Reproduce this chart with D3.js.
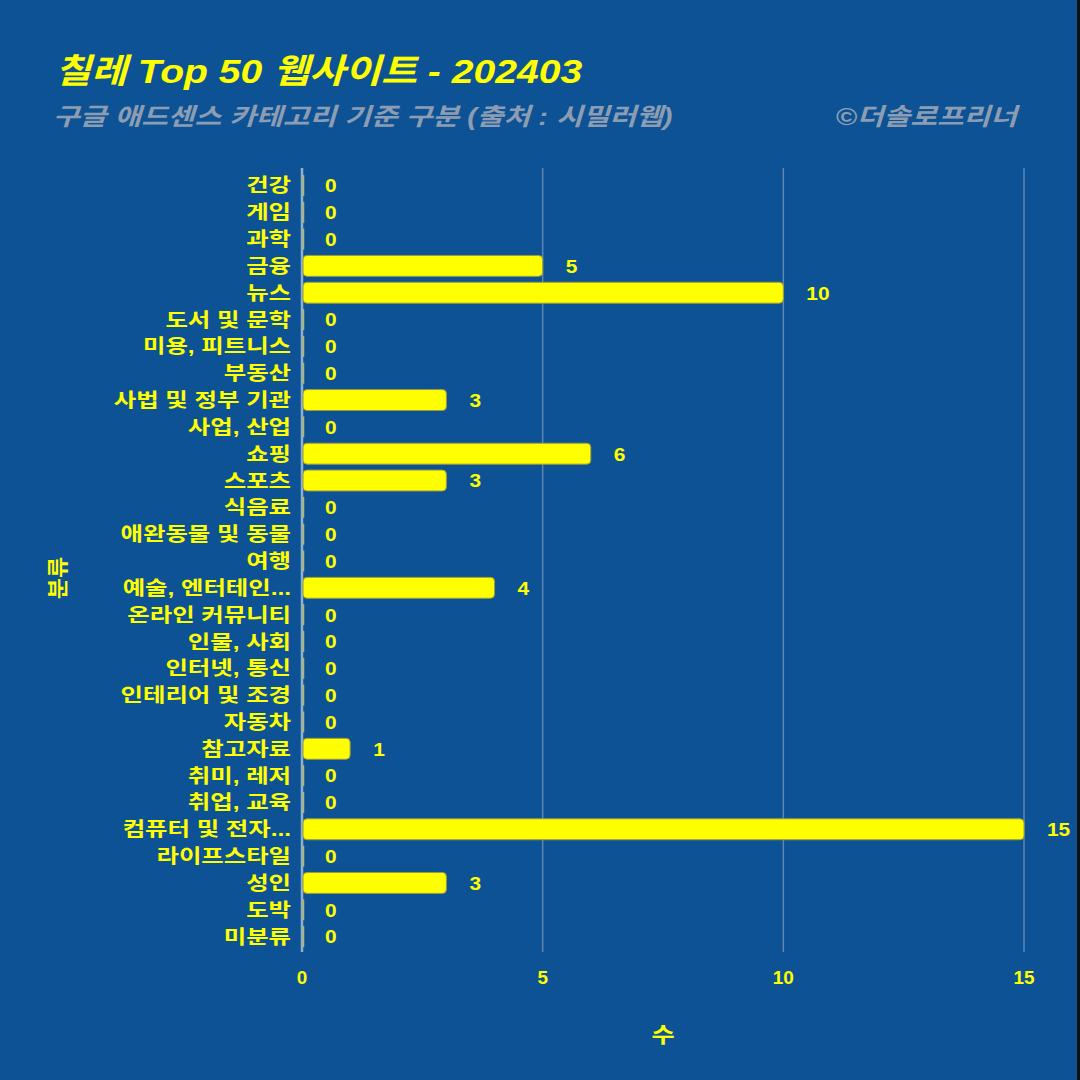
<!DOCTYPE html>
<html><head><meta charset="utf-8">
<script src="https://cdn.jsdelivr.net/npm/d3@7"></script>
<style>
html,body{margin:0;padding:0;background:#0d5294;}
svg{display:block;}
text{font-family:"Liberation Sans","Noto Sans CJK KR",sans-serif;}
</style></head>
<body>
<svg id="chart" width="1080" height="1080"></svg>
<script>
const categories = ["건강","게임","과학","금융","뉴스","도서 및 문학","미용, 피트니스","부동산","사법 및 정부 기관","사업, 산업","쇼핑","스포츠","식음료","애완동물 및 동물","여행","예술, 엔터테인...","온라인 커뮤니티","인물, 사회","인터넷, 통신","인테리어 및 조경","자동차","참고자료","취미, 레저","취업, 교육","컴퓨터 및 전자...","라이프스타일","성인","도박","미분류"];
const values = [0,0,0,5,10,0,0,0,3,0,6,3,0,0,0,4,0,0,0,0,0,1,0,0,15,0,3,0,0];
const xTicks = [0,5,10,15];
const titleText = "칠레 Top 50 웹사이트 - 202403";
const subtitleText = "구글 애드센스 카테고리 기준 구분 (출처 : 시밀러웹)";
const creditText = "©더솔로프리너";
const xTitle = "수";
const yTitle = "분류";

const svg = d3.select("#chart");
const W = 1080, H = 1080;
const yellow = "#ffff00";
svg.append("rect").attr("width",W).attr("height",H).attr("fill","#0d5294");
svg.append("rect").attr("x",1077).attr("y",0).attr("width",3).attr("height",H).attr("fill","#111");

const x = d3.scaleLinear().domain([0,15]).range([302,1024]);
const y = d3.scaleBand().domain(categories).range([172,950]).paddingInner(0.22).paddingOuter(0.11);

// grid
svg.append("g").selectAll("line").data(xTicks).join("line")
  .attr("x1",d=>x(d)).attr("x2",d=>x(d)).attr("y1",168).attr("y2",952)
  .attr("stroke",d=>d===0?"#8fb0d0":"#5d86b5").attr("stroke-width",d=>d===0?2.5:1.5);

// bars
const bh = y.bandwidth();
svg.append("g").selectAll("rect").data(categories).join("rect")
  .attr("x",x(0)+1)
  .attr("y",d=>y(d))
  .attr("width",(d,i)=>Math.max(0,x(values[i])-x(0)-1))
  .attr("height",bh)
  .attr("rx",4).attr("ry",4)
  .attr("fill",yellow)
  .attr("stroke",(d,i)=>values[i]>0?"#9a9a40":"none").attr("stroke-width",1);
// zero stubs
svg.append("g").selectAll("line").data(categories.filter((d,i)=>values[i]===0)).join("line")
  .attr("x1",x(0)+1.5).attr("x2",x(0)+1.5)
  .attr("y1",d=>y(d)).attr("y2",d=>y(d)+bh)
  .attr("stroke","#b8b860").attr("stroke-width",1.5);

// value labels
svg.append("g").selectAll("text").data(categories).join("text")
  .attr("transform",(d,i)=>`translate(${x(values[i])+23},${y(d)+bh/2}) scale(1.1,1)`)
  .attr("dy","0.36em")
  .attr("text-anchor","start")
  .attr("fill",yellow).attr("font-weight",700).attr("font-size",19)
  .text((d,i)=>values[i]);

// category labels
svg.append("g").selectAll("text").data(categories).join("text")
  .attr("transform",d=>`translate(291,${y(d)+bh/2}) scale(1.25,1)`)
  .attr("dy","0.36em")
  .attr("text-anchor","end")
  .attr("fill",yellow).attr("font-weight",700).attr("font-size",19.5)
  .text(d=>d);

// x tick labels
svg.append("g").selectAll("text").data(xTicks).join("text")
  .attr("transform",d=>`translate(${x(d)},978) scale(1.05,1)`).attr("dy","0.36em")
  .attr("text-anchor","middle")
  .attr("fill",yellow).attr("font-weight",700).attr("font-size",18)
  .text(d=>d);

// axis titles
svg.append("text").attr("transform","translate(663,1034) scale(1.2,1)").attr("dy","0.36em")
  .attr("text-anchor","middle").attr("fill",yellow).attr("font-weight",700).attr("font-size",21)
  .text(xTitle);
svg.append("text").attr("transform","translate(57,578) rotate(-90) scale(1.1,1)").attr("dy","0.36em")
  .attr("text-anchor","middle").attr("fill",yellow).attr("font-weight",700).attr("font-size",21)
  .text(yTitle);

// titles
svg.append("text").attr("transform","translate(55,83) scale(1.15,1)")
  .attr("fill",yellow).attr("font-weight",700).attr("font-size",34).attr("font-style","italic")
  .text(titleText);
svg.append("text").attr("transform","translate(53,125) scale(1.21,1)")
  .attr("fill","#8c9db3").attr("font-weight",700).attr("font-size",24).attr("font-style","italic")
  .text(subtitleText);
svg.append("text").attr("transform","translate(1017,125) scale(1.21,1)").attr("text-anchor","end")
  .attr("fill","#8c9db3").attr("font-weight",700).attr("font-size",24).attr("font-style","italic")
  .text(creditText);
</script>
</body></html>
